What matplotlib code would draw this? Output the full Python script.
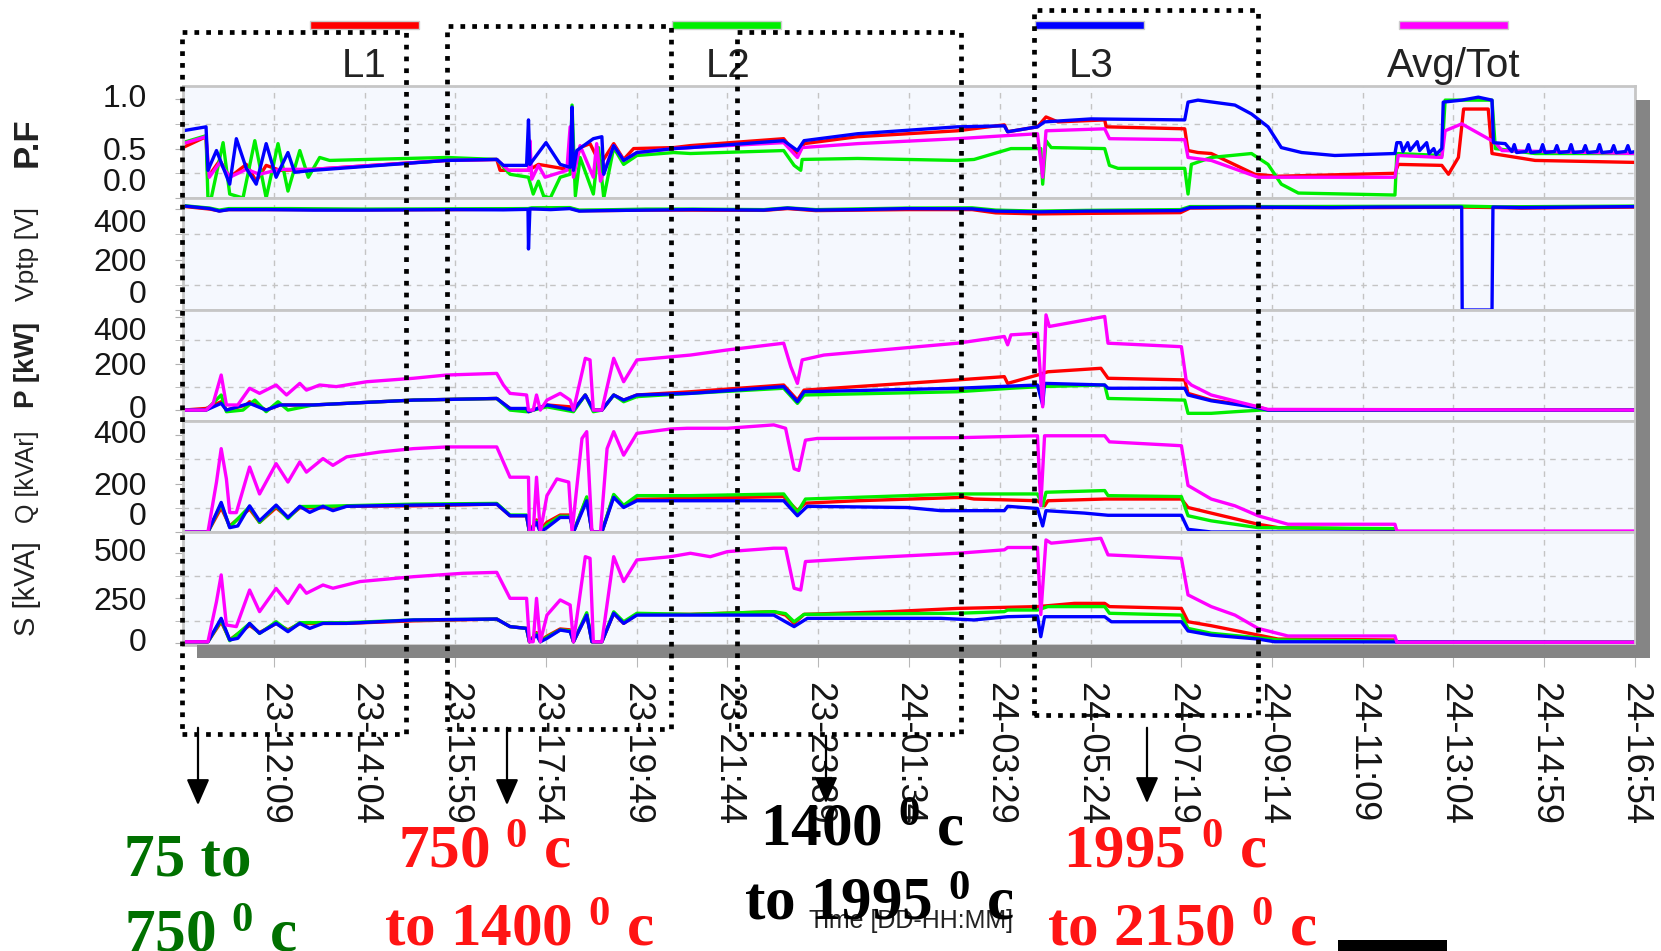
import numpy as np
import pandas as pd
import matplotlib
matplotlib.use('Agg')
import matplotlib.pyplot as plt
import matplotlib.dates as mdates
from matplotlib.patches import Rectangle, FancyArrowPatch

plt.rcParams['font.family'] = ['Liberation Sans', 'DejaVu Sans']
plt.rcParams['mathtext.fontset'] = 'custom'
plt.rcParams['mathtext.rm'] = 'Liberation Serif:bold'
plt.rcParams['mathtext.it'] = 'Liberation Serif:bold'
plt.rcParams['mathtext.bf'] = 'Liberation Serif:bold'

# --- data: (hours since day 23 00:00, value) ---
pf_red = [(10.23, 0.51), (10.72, 0.62), (10.76, 0.21), (11.01, 0.38), (11.22, 0.21), (11.57, 0.34), (11.78, 0.17),
          (11.99, 0.33), (12.28, 0.28), (12.98, 0.29), (15.8, 0.38), (16.86, 0.39), (16.93, 0.28), (17.53, 0.28),
          (17.74, 0.34), (18.48, 0.28), (18.62, 0.51), (18.83, 0.55), (19.05, 0.34), (19.33, 0.55), (19.54, 0.39),
          (19.75, 0.5), (20.6, 0.51), (20.95, 0.53), (22.92, 0.6), (23.21, 0.43), (23.35, 0.55), (24.48, 0.62),
          (26.59, 0.68), (27.58, 0.74), (27.65, 0.67), (28.28, 0.72), (28.46, 0.82), (28.71, 0.77), (29.7, 0.79),
          (29.73, 0.72), (31.39, 0.7), (31.46, 0.48), (31.67, 0.46), (31.95, 0.45), (32.87, 0.24), (33.36, 0.22),
          (35.83, 0.25), (35.9, 0.34), (36.82, 0.33), (36.96, 0.24), (37.17, 0.41), (37.28, 0.9), (37.8, 0.9),
          (37.88, 0.45), (38.79, 0.38), (40.91, 0.36)]
pf_green = [(10.23, 0.56), (10.72, 0.63), (10.76, 0.0), (10.83, 0.0), (11.08, 0.56), (11.22, 0.04), (11.5, 0.0),
            (11.75, 0.58), (11.99, 0.0), (12.24, 0.55), (12.45, 0.07), (12.7, 0.48), (12.88, 0.21), (13.12, 0.41),
            (13.33, 0.38), (14.11, 0.39), (15.8, 0.41), (16.86, 0.39), (17.14, 0.24), (17.53, 0.21), (17.63, 0.04),
            (17.74, 0.17), (17.85, 0.02), (17.99, 0.0), (18.2, 0.21), (18.41, 0.24), (18.45, 0.94), (18.52, 0.02),
            (18.62, 0.41), (18.9, 0.04), (19.01, 0.51), (19.12, 0.0), (19.33, 0.51), (19.54, 0.34), (19.82, 0.43),
            (20.6, 0.46), (20.95, 0.45), (22.92, 0.48), (23.14, 0.33), (23.28, 0.28), (23.31, 0.39), (24.48, 0.4),
            (26.59, 0.38), (26.94, 0.39), (27.72, 0.5), (28.35, 0.5), (28.39, 0.14), (28.46, 0.58), (28.57, 0.51),
            (29.7, 0.5), (29.8, 0.33), (29.98, 0.3), (31.39, 0.3), (31.46, 0.04), (31.53, 0.34), (31.95, 0.41),
            (32.8, 0.45), (33.15, 0.34), (33.43, 0.14), (33.79, 0.05), (35.83, 0.03), (35.87, 0.45), (36.82, 0.43),
            (36.89, 0.99), (37.88, 0.99), (37.95, 0.5), (38.79, 0.45), (40.91, 0.45)]
pf_blue = [(10.23, 0.68), (10.72, 0.72), (10.76, 0.28), (10.94, 0.48), (11.22, 0.14), (11.36, 0.6), (11.57, 0.3),
           (11.78, 0.14), (11.99, 0.55), (12.2, 0.21), (12.45, 0.46), (12.59, 0.26), (12.98, 0.28), (15.8, 0.38),
           (16.86, 0.39), (17.0, 0.33), (17.49, 0.33), (17.53, 0.79), (17.56, 0.34), (17.9, 0.56), (18.2, 0.34),
           (18.41, 0.31), (18.45, 0.92), (18.48, 0.28), (18.55, 0.48), (18.9, 0.6), (19.08, 0.62), (19.12, 0.24),
           (19.33, 0.53), (19.54, 0.38), (19.82, 0.46), (20.6, 0.5), (20.95, 0.51), (22.92, 0.58), (23.21, 0.48),
           (23.35, 0.58), (24.48, 0.65), (26.59, 0.72), (27.58, 0.73), (27.65, 0.67), (28.28, 0.72), (28.43, 0.77),
           (29.41, 0.8), (31.39, 0.79), (31.46, 0.97), (31.67, 0.99), (32.45, 0.94), (32.8, 0.85), (33.15, 0.72),
           (33.43, 0.51), (33.86, 0.46), (34.56, 0.43), (35.83, 0.45), (35.87, 0.56), (35.95, 0.56), (36.0, 0.47),
           (36.1, 0.56), (36.15, 0.48), (36.3, 0.57), (36.35, 0.48), (36.5, 0.56), (36.55, 0.45), (36.65, 0.5),
           (36.7, 0.44), (36.82, 0.5), (36.85, 0.97), (37.24, 0.99), (37.59, 1.02), (37.88, 0.99), (37.91, 0.56),
           (38.16, 0.55), (38.3, 0.47), (38.35, 0.54), (38.4, 0.46), (38.6, 0.47), (38.65, 0.54), (38.7, 0.46),
           (38.9, 0.47), (38.95, 0.54), (39.0, 0.46), (39.2, 0.47), (39.25, 0.53), (39.3, 0.46), (39.5, 0.47),
           (39.55, 0.54), (39.6, 0.46), (39.8, 0.47), (39.85, 0.53), (39.9, 0.46), (40.1, 0.47), (40.15, 0.54),
           (40.2, 0.46), (40.4, 0.47), (40.45, 0.53), (40.5, 0.46), (40.7, 0.47), (40.75, 0.53), (40.8, 0.46),
           (40.91, 0.47)]
pf_avg = [(10.23, 0.55), (10.72, 0.62), (10.79, 0.21), (11.01, 0.36), (11.22, 0.21), (11.57, 0.29), (11.85, 0.24),
          (12.28, 0.29), (12.98, 0.29), (15.8, 0.38), (16.86, 0.39), (17.11, 0.28), (17.53, 0.28), (17.56, 0.58),
          (17.6, 0.19), (17.74, 0.33), (17.88, 0.21), (18.34, 0.28), (18.41, 0.72), (18.48, 0.21), (18.62, 0.53),
          (18.9, 0.21), (18.97, 0.55), (19.05, 0.17), (19.33, 0.53), (19.54, 0.38), (19.82, 0.46), (20.6, 0.5),
          (20.95, 0.51), (22.92, 0.56), (23.21, 0.41), (23.31, 0.51), (24.48, 0.55), (26.59, 0.6), (27.58, 0.63),
          (28.28, 0.65), (28.39, 0.21), (28.46, 0.68), (29.7, 0.7), (29.8, 0.6), (31.39, 0.59), (31.46, 0.41),
          (31.95, 0.38), (32.94, 0.21), (35.83, 0.21), (35.9, 0.43), (36.82, 0.41), (36.89, 0.68), (37.24, 0.75),
          (37.95, 0.56), (38.09, 0.48), (40.91, 0.45)]

v_red = [(10.23, 411), (10.8, 400), (11.0, 393), (11.2, 398), (12.5, 398), (14.0, 397), (16.0, 398), (17.52, 400),
         (17.6, 402), (18.4, 404), (18.6, 394), (19.1, 394), (20.0, 396), (21.0, 396), (22.5, 395), (23.0, 402),
         (23.6, 394), (25.5, 398), (26.9, 398), (27.4, 385), (28.3, 381), (29.3, 383), (31.3, 386), (31.5, 404),
         (33.3, 406), (35.5, 406), (37.2, 408), (38.0, 406), (38.5, 404), (40.91, 408)]
v_green = [(10.23, 414), (10.8, 404), (11.0, 396), (11.2, 402), (12.5, 402), (14.0, 400), (16.0, 401), (17.52, 402),
           (17.6, 405), (18.4, 406), (18.6, 396), (19.1, 397), (20.0, 400), (21.0, 400), (22.5, 398), (23.0, 405),
           (23.6, 398), (25.5, 404), (26.9, 405), (27.4, 396), (28.3, 392), (29.3, 395), (31.3, 398), (31.5, 410),
           (33.3, 410), (35.5, 411), (37.2, 412), (38.0, 409), (40.91, 412)]
v_blue = [(10.23, 413), (10.8, 402), (11.0, 392), (11.2, 398), (12.0, 398), (13.0, 396), (14.0, 396), (16.0, 398),
          (17.0, 397), (17.52, 399), (17.53, 242), (17.56, 401), (18.0, 398), (18.4, 402), (18.6, 392), (19.1, 394),
          (20.0, 396), (21.0, 398), (22.5, 396), (23.0, 404), (23.6, 396), (24.5, 398), (25.5, 402), (26.9, 401),
          (27.4, 392), (28.3, 389), (29.3, 392), (31.3, 394), (31.5, 406), (32.6, 408), (34.5, 406), (35.5, 408),
          (37.24, 408), (37.25, 0), (37.88, 0), (37.9, 408), (38.5, 406), (40.91, 410)]

p_red = [(10.23, 0), (10.72, 7), (11.04, 36), (11.15, 0), (11.57, 22), (11.64, 36), (11.99, 0), (12.28, 22),
         (12.98, 22), (15.1, 43), (16.86, 50), (17.14, 7), (17.49, 0), (17.53, -7), (17.92, 22), (18.41, 14),
         (18.48, 0), (18.73, 65), (18.9, 0), (19.08, 0), (19.33, 65), (19.54, 43), (19.82, 65), (20.95, 79),
         (22.92, 108), (23.21, 43), (23.35, 86), (26.59, 130), (27.58, 144), (27.65, 115), (28.28, 151),
         (28.5, 165), (29.62, 180), (29.77, 137), (31.39, 130), (31.46, 72), (31.95, 43), (32.94, 14), (33.15, 0),
         (40.91, 0)]
p_green = [(10.23, 0), (10.72, 0), (11.04, 65), (11.15, -7), (11.5, 0), (11.75, 43), (11.99, -7), (12.24, 36),
           (12.45, 0), (12.98, 22), (15.1, 43), (16.86, 50), (17.14, 0), (17.49, -7), (17.92, 14), (18.48, -7),
           (18.73, 65), (18.9, -7), (19.08, 0), (19.33, 65), (19.54, 36), (19.82, 58), (20.95, 72), (22.92, 94),
           (23.21, 29), (23.35, 65), (26.59, 79), (27.72, 94), (28.35, 101), (29.7, 108), (29.77, 50), (31.39, 43),
           (31.46, -14), (31.95, -14), (32.45, -7), (33.0, 0), (40.91, 0)]
p_blue = [(10.23, 0), (10.72, 0), (11.04, 29), (11.15, 0), (11.64, 29), (11.99, 0), (12.28, 22), (12.98, 22),
          (15.1, 43), (16.86, 50), (17.14, 7), (17.49, 7), (17.53, -7), (17.92, 22), (18.48, 0), (18.73, 65),
          (18.9, 0), (19.08, 0), (19.33, 65), (19.54, 43), (19.82, 65), (20.95, 72), (22.92, 101), (23.21, 36),
          (23.35, 79), (26.59, 94), (28.28, 108), (28.39, 22), (28.43, 115), (29.7, 108), (29.77, 94), (31.39, 94),
          (31.46, 65), (31.95, 40), (32.94, 10), (33.15, 0), (40.91, 0)]
p_avg = [(10.23, 0), (10.72, 0), (10.87, 29), (11.04, 151), (11.15, 22), (11.39, 22), (11.64, 94), (11.85, 72),
         (12.2, 108), (12.42, 65), (12.7, 115), (12.84, 86), (13.12, 108), (13.47, 101), (14.11, 122), (15.1, 137),
         (15.8, 151), (16.86, 158), (17.0, 108), (17.14, 72), (17.49, 65), (17.53, 0), (17.63, 0), (17.7, 65),
         (17.78, 0), (17.92, 43), (18.2, 72), (18.41, 43), (18.48, 0), (18.73, 223), (18.83, 216), (18.9, 0),
         (19.08, 0), (19.33, 223), (19.54, 122), (19.82, 216), (20.95, 237), (21.73, 259), (22.92, 288),
         (23.07, 187), (23.21, 115), (23.31, 216), (23.77, 237), (26.59, 288), (27.58, 317), (27.65, 281),
         (27.72, 324), (28.28, 331), (28.39, 14), (28.46, 410), (28.53, 360), (29.7, 403), (29.77, 288),
         (31.32, 273), (31.42, 129), (31.53, 108), (31.95, 65), (32.94, 14), (33.15, 3), (40.91, 0)]

q_red = [(10.23, 0), (10.76, 0), (11.04, 100), (11.22, 25), (11.64, 95), (11.85, 40), (12.2, 100), (12.45, 60),
         (12.7, 100), (13.19, 100), (13.69, 106), (15.1, 108), (16.86, 115), (17.14, 67), (17.49, 67), (17.55, 0),
         (17.7, 50), (17.78, 10), (17.92, 40), (18.2, 70), (18.41, 70), (18.48, 0), (18.76, 140), (18.87, 0),
         (19.08, 0), (19.33, 150), (19.54, 105), (19.82, 135), (20.95, 139), (22.92, 146), (23.21, 88),
         (23.38, 119), (24.48, 129), (26.73, 143), (26.94, 136), (28.28, 129), (28.43, 108), (28.5, 129),
         (29.7, 136), (31.32, 136), (31.46, 101), (31.95, 78), (32.94, 32), (33.36, 18), (35.83, 11), (35.87, 0),
         (40.91, 0)]
q_green = [(10.23, 0), (10.76, 0), (11.04, 115), (11.22, 20), (11.64, 105), (11.85, 40), (12.2, 108), (12.45, 55),
           (12.7, 105), (13.19, 106), (15.1, 115), (16.86, 118), (17.14, 70), (17.49, 70), (17.55, 0), (17.7, 45),
           (17.78, 0), (17.92, 30), (18.2, 65), (18.41, 65), (18.48, 0), (18.76, 145), (18.87, 0), (19.08, 0),
           (19.33, 155), (19.54, 110), (19.82, 150), (20.95, 150), (22.92, 157), (23.21, 81), (23.38, 136),
           (26.59, 157), (28.28, 157), (28.39, 108), (28.46, 164), (29.7, 171), (29.77, 150), (31.32, 146),
           (31.46, 67), (31.95, 46), (32.94, 18), (35.83, 14), (35.9, 0), (40.91, 0)]
q_blue = [(10.23, 0), (10.76, 0), (11.04, 122), (11.22, 18), (11.39, 25), (11.64, 108), (11.85, 46), (12.2, 111),
          (12.45, 60), (12.7, 106), (12.91, 81), (13.19, 106), (13.4, 88), (13.69, 106), (15.1, 111), (16.86, 115),
          (17.14, 67), (17.49, 67), (17.55, 0), (17.7, 39), (17.78, 0), (17.92, 18), (18.2, 60), (18.41, 60),
          (18.48, 0), (18.76, 129), (18.87, 0), (19.08, 0), (19.33, 143), (19.54, 101), (19.82, 129), (20.95, 129),
          (22.92, 129), (23.21, 67), (23.42, 106), (25.53, 101), (26.24, 88), (27.58, 88), (27.65, 106),
          (28.28, 97), (28.39, 25), (28.46, 88), (29.27, 78), (29.77, 69), (31.32, 69), (31.46, 11), (31.95, 0),
          (40.91, 0)]
q_avg = [(10.23, 0), (10.76, 0), (10.94, 205), (11.04, 344), (11.15, 219), (11.22, 80), (11.36, 80), (11.64, 268),
         (11.85, 157), (12.2, 282), (12.45, 206), (12.7, 289), (12.84, 247), (13.19, 303), (13.4, 275), (13.69, 310),
         (14.39, 330), (15.1, 344), (15.8, 351), (16.86, 351), (17.14, 226), (17.53, 226), (17.55, 0), (17.63, 0),
         (17.7, 226), (17.78, 0), (17.92, 150), (18.13, 219), (18.38, 206), (18.45, 0), (18.66, 386), (18.76, 414),
         (18.87, 0), (19.05, 0), (19.19, 344), (19.33, 414), (19.54, 317), (19.82, 407), (20.53, 425), (20.88, 428),
         (21.73, 428), (22.71, 442), (22.96, 428), (23.14, 261), (23.24, 254), (23.38, 379), (23.63, 386),
         (26.59, 389), (28.28, 397), (28.35, 108), (28.43, 397), (29.7, 397), (29.8, 372), (31.32, 356),
         (31.46, 192), (31.95, 136), (32.45, 108), (32.94, 67), (33.57, 32), (35.83, 32), (35.87, 4), (40.91, 4)]

s_red = [(10.23, 9), (10.76, 9), (11.04, 120), (11.22, 20), (11.64, 100), (11.85, 60), (12.2, 110), (12.45, 75),
         (12.7, 110), (13.69, 111), (15.1, 125), (16.86, 135), (17.14, 93), (17.49, 83), (17.55, 9), (17.7, 60),
         (17.78, 15), (17.92, 40), (18.2, 80), (18.41, 75), (18.48, 9), (18.76, 160), (18.87, 9), (19.08, 9),
         (19.33, 167), (19.54, 111), (19.82, 161), (20.95, 161), (22.71, 176), (22.96, 157), (23.14, 111),
         (23.35, 161), (25.18, 176), (26.59, 194), (28.28, 204), (29.06, 222), (29.7, 222), (29.8, 204),
         (31.32, 194), (31.46, 120), (31.95, 98), (32.94, 46), (33.36, 24), (35.83, 19), (35.87, 6), (40.91, 6)]
s_green = [(10.23, 9), (10.76, 9), (11.04, 130), (11.22, 15), (11.64, 110), (11.85, 55), (12.2, 120), (12.45, 70),
           (12.7, 115), (13.69, 115), (15.1, 130), (16.86, 135), (17.14, 93), (17.49, 83), (17.55, 9), (17.7, 55),
           (17.78, 9), (17.92, 35), (18.2, 75), (18.41, 70), (18.48, 9), (18.76, 170), (18.87, 9), (19.08, 9),
           (19.33, 175), (19.54, 120), (19.82, 167), (20.95, 161), (22.71, 176), (22.96, 165), (23.14, 120),
           (23.35, 161), (26.59, 167), (27.58, 176), (27.65, 185), (28.28, 185), (28.5, 204), (29.7, 204),
           (29.8, 167), (31.32, 157), (31.46, 83), (31.95, 56), (32.94, 31), (33.36, 19), (35.83, 13), (35.9, 6),
           (40.91, 6)]
s_blue = [(10.23, 9), (10.76, 9), (11.04, 139), (11.22, 19), (11.39, 28), (11.64, 111), (11.85, 56), (12.2, 111),
          (12.45, 65), (12.7, 111), (12.91, 83), (13.19, 111), (13.69, 111), (15.1, 130), (16.86, 135), (17.14, 93),
          (17.49, 83), (17.55, 9), (17.7, 46), (17.78, 9), (17.92, 28), (18.2, 74), (18.41, 65), (18.48, 9),
          (18.76, 157), (18.87, 9), (19.08, 9), (19.33, 167), (19.54, 111), (19.82, 157), (20.95, 157),
          (22.71, 157), (23.14, 93), (23.42, 139), (26.24, 139), (26.94, 130), (27.65, 148), (28.28, 152),
          (28.35, 37), (28.43, 148), (29.7, 148), (29.84, 120), (31.32, 120), (31.46, 69), (31.95, 46), (32.94, 24),
          (33.29, 9), (40.91, 6)]
s_avg = [(10.23, 9), (10.76, 9), (10.94, 231), (11.04, 380), (11.15, 102), (11.36, 93), (11.64, 296), (11.85, 176),
         (12.2, 305), (12.45, 222), (12.7, 324), (12.84, 278), (13.19, 324), (13.4, 306), (13.97, 343), (15.1, 370),
         (16.15, 389), (16.86, 394), (17.14, 250), (17.49, 250), (17.55, 9), (17.63, 9), (17.7, 250), (17.78, 9),
         (17.92, 157), (18.2, 241), (18.41, 213), (18.48, 9), (18.73, 481), (18.83, 472), (18.9, 9), (19.08, 9),
         (19.33, 481), (19.54, 343), (19.82, 463), (20.53, 481), (20.95, 500), (21.37, 481), (21.73, 509),
         (22.71, 528), (22.96, 528), (23.14, 306), (23.28, 296), (23.38, 454), (24.48, 472), (26.59, 500),
         (27.58, 519), (27.65, 532), (28.28, 532), (28.35, 160), (28.46, 574), (28.57, 556), (29.62, 583),
         (29.77, 491), (31.32, 472), (31.46, 269), (31.95, 204), (32.45, 157), (32.94, 83), (33.57, 41),
         (35.83, 41), (35.87, 6), (40.91, 6)]

phase_names = ['L1', 'L2', 'L3', 'Avg/Tot']
phase_colors = ['#ff0000', '#00ee00', '#0000ff', '#ff00ff']

tick_start = '2000-01-23 12:09'
x_start, x_end = '2000-01-23 10:14', '2000-01-24 16:54'

W, H = 1661, 951
day0 = pd.Timestamp('2000-01-23')


def to_xy(pairs):
    h, v = zip(*pairs)
    t = day0 + pd.to_timedelta(np.array(h), unit='h')
    return mdates.date2num(t.values), np.array(v, dtype=float)


def frac(x0, y0, x1, y1):
    # pixel box (top-left origin) -> figure fraction rect
    return [x0 / W, 1 - y1 / H, (x1 - x0) / W, (y1 - y0) / H]


fig = plt.figure(figsize=(W / 100, H / 100), dpi=100)

edges = [86, 198, 310, 421, 532, 645]
# label, weight, size, ylim, ticks, ticklabels, grid, series, colour index, top/bottom label alignment
panels = [
    ('P.F', 'bold', 25, (0, 1.133), [0, 0.5, 1.0], ['0.0', '0.5', '1.0'], np.arange(0, 1.01, 0.25),
     [pf_red, pf_green, pf_avg, pf_blue], [0, 1, 3, 2], ('center', 'bottom')),
    ('Vptp [V]', 'normal', 19, (0, 444), [0, 200, 400], ['0', '200', '400'], np.arange(0, 401, 100),
     [v_red, v_green, v_blue], [0, 1, 2], ('top', 'bottom')),
    ('P [kW]', 'bold', 20, (-47, 431), [0, 200, 400], ['0', '200', '400'], np.arange(0, 401, 100),
     [p_red, p_green, p_blue, p_avg], [0, 1, 2, 3], ('top', 'center')),
    ('Q [kVAr]', 'normal', 18, (0, 458), [0, 200, 400], ['0', '200', '400'], np.arange(0, 401, 100),
     [q_red, q_green, q_blue, q_avg], [0, 1, 2, 3], ('center', 'bottom')),
    ('S [kVA]', 'normal', 21, (-9, 618), [0, 250, 500], ['0', '250', '500'], np.arange(0, 501, 125),
     [s_red, s_green, s_blue, s_avg], [0, 1, 2, 3], ('center', 'center')),
]

tick_times = pd.date_range(tick_start, periods=16, freq='115min')
axes = []
for i, (lab, wt, fs, ylim, maj, majlab, grid_vals, series, cidx, valign) in enumerate(panels):
    ax = fig.add_axes(frac(183, edges[i], 1635, edges[i + 1]),
                      sharex=axes[0] if axes else None)
    ax.set_facecolor('#f5f8fe')
    for s, c in zip(series, cidx):
        x, y = to_xy(s)
        ax.plot(x, y, color=phase_colors[c], lw=2.4)
    ax.set_ylim(*ylim)
    ax.set_yticks(maj)
    ax.set_yticklabels(majlab)
    ax.set_yticks(grid_vals, minor=True)
    ax.grid(True, axis='y', which='minor', color='#c4c4c4', ls=(0, (4, 4)), lw=1)
    ax.grid(True, axis='x', which='major', color='#c4c4c4', ls=(0, (4, 4)), lw=1)
    ax.tick_params(axis='y', which='both', direction='out', length=6, color='#b0b0b0',
                   pad=20, labelsize=23, labelcolor='#151515')
    tl = ax.get_yticklabels()
    tl[-1].set_va(valign[0])
    tl[0].set_va(valign[1])
    for sp in ax.spines.values():
        sp.set_color('#c6c6c6')
        sp.set_linewidth(2)
    fig.text(27 / W, 1 - (edges[i] + edges[i + 1]) / 2 / H, lab, rotation=90, ha='center',
             va='center', fontsize=fs, fontweight=wt, color='#222222')
    axes.append(ax)

bottom = axes[-1]
bottom.set_xlim(mdates.date2num(pd.Timestamp(x_start)), mdates.date2num(pd.Timestamp(x_end)))
bottom.set_xticks(mdates.date2num(tick_times.values))
bottom.xaxis.set_major_formatter(mdates.DateFormatter('%d-%H:%M'))
for ax in axes[:-1]:
    ax.tick_params(axis='x', length=0, labelbottom=False)
bottom.tick_params(axis='x', direction='out', length=16, color='#b8b8b8', pad=11,
                   labelsize=26, labelrotation=270, labelcolor='#151515')

# drop shadow of the chart frame
fig.add_artist(Rectangle((197 / W, 1 - 658 / H), (1650 - 197) / W, 13 / H,
                         transform=fig.transFigure, facecolor='#858585', edgecolor='none', zorder=2))
fig.add_artist(Rectangle((1636 / W, 1 - 658 / H), 14 / W, (658 - 100) / H,
                         transform=fig.transFigure, facecolor='#858585', edgecolor='none', zorder=2))

# legend bars and names
bar_x = [310, 672, 1035, 1399]
name_x = [364, 728, 1091, 1454]
for bx, nx, nm, c in zip(bar_x, name_x, phase_names, phase_colors):
    fig.add_artist(Rectangle((bx / W, 1 - 29 / H), 109 / W, 8 / H, transform=fig.transFigure,
                             facecolor=c, edgecolor='#cccccc', lw=1, zorder=3))
    fig.text(nx / W, 1 - 66 / H, nm, ha='center', va='center', fontsize=29, color='#222222')

fig.text(911 / W, 1 - 921 / H, 'Time [DD-HH:MM]', ha='center', va='center', fontsize=18,
         color='#222222', zorder=3)

# dotted boxes marking furnace stages
for x0, y0, x1, y1 in [(182, 32, 406, 734), (447, 26, 671, 729), (737, 32, 961, 734), (1034, 10, 1258, 715)]:
    fig.add_artist(Rectangle((x0 / W, 1 - y1 / H), (x1 - x0) / W, (y1 - y0) / H,
                             transform=fig.transFigure, fill=False, edgecolor='black',
                             lw=3.4, ls=(0, (1, 1.5)), zorder=10))

for ax_x, y0, y1 in [(198, 725, 808), (507, 725, 808), (826, 733, 806), (1147, 725, 806)]:
    fig.add_artist(FancyArrowPatch((ax_x / W, 1 - y0 / H), (ax_x / W, 1 - y1 / H),
                                   transform=fig.transFigure, arrowstyle='-|>,head_length=0.8,head_width=0.35',
                                   mutation_scale=20, lw=1.6, color='black', zorder=11))

temp_labels = [
    ('75 to', 124, 875, '#007000'), (r'750 $^{0}$ c', 124, 951, '#007000'),
    (r'750 $^{0}$ c', 398, 868, '#ff1414'), (r'to 1400 $^{0}$ c', 384, 945, '#ff1414'),
    (r'1400 $^{0}$ c', 760, 845, 'black'), (r'to 1995 $^{0}$ c', 744, 920, 'black'),
    (r'1995 $^{0}$ c', 1063, 868, '#ff1414'), (r'to 2150 $^{0}$ c', 1047, 945, '#ff1414'),
]
for s, x, y, c in temp_labels:
    fig.text(x / W, 1 - y / H, s, ha='left', va='baseline', fontsize=44, family='Liberation Serif',
             fontweight='bold', color=c, zorder=12)

fig.add_artist(Rectangle((1338 / W, 0), 109 / W, 11 / H, transform=fig.transFigure,
                         facecolor='black', edgecolor='none', zorder=12))

fig.savefig('out.png', dpi=100)
